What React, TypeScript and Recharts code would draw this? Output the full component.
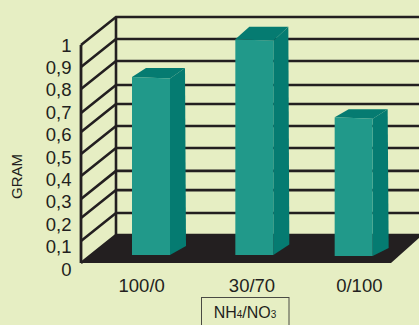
import React from "react";
import { BarChart, Bar, XAxis, YAxis, CartesianGrid } from "recharts";

const categories = ["100/0", "30/70", "0/100"];
const gramValues = [0.816, 0.99, 0.636];
const axisValues = [0, 0.1, 0.2, 0.3, 0.4, 0.5, 0.6, 0.7, 0.8, 0.9, 1];
const axisLabels = ["0", "0,1", "0,2", "0,3", "0,4", "0,5", "0,6", "0,7", "0,8", "0,9", "1"];
const gridLevels = [0, 0.101, 0.206, 0.294, 0.399, 0.5, 0.601, 0.688, 0.798, 0.899, 1];

const data = categories.map((name, i) => ({ name, gram: gramValues[i] }));

const INK = "#231f20";
const BG = "#e6eec3";
const FRONT = "#21998a";
const DARK = "#057b71";
const FONT = "'Liberation Sans', Arial, sans-serif";

const DEPTH_X = 35;
const DEPTH_Y = 28;

const barLook = [
  { nudge: 0, lift: 8, rise: 9, baseRise: 9 },
  { nudge: 2, lift: 8, rise: 12.5, baseRise: 10.5 },
  { nudge: 0, lift: 7, rise: 8, baseRise: 8 },
];
const labelNudge = [-9, 0, 6];

function WallLine(props: any) {
  const { x1, y1, x2, y, height } = props;
  const bottom = y + height;
  const isFloor = Math.abs(y1 - bottom) < 0.5;
  return (
    <g>
      {isFloor && (
        <>
          <polygon
            points={`${x1},${y1} ${x1 + DEPTH_X},${y1 - DEPTH_Y} ${x2},${y1 - DEPTH_Y} ${x2},${y1 - DEPTH_Y + 3} ${x2 - 28},${y1}`}
            fill={INK}
          />
          <line x1={x1 + DEPTH_X} y1={y - DEPTH_Y} x2={x1 + DEPTH_X} y2={y1 - DEPTH_Y} stroke={INK} strokeWidth={2.6} />
        </>
      )}
      <polyline
        points={`${x1},${y1} ${x1 + DEPTH_X},${y1 - DEPTH_Y} ${x2},${y1 - DEPTH_Y}`}
        fill="none"
        stroke={INK}
        strokeWidth={2.6}
      />
    </g>
  );
}

function Bar3D(props: any) {
  const { x, y, width, height, index } = props;
  const look = barLook[index] || barLook[0];
  const l = x + look.nudge;
  const r = l + width;
  const t = y - look.lift;
  const b = t + height;
  return (
    <g>
      <polygon
        points={`${l},${t} ${l + 14},${t - look.rise} ${r + 15},${t - look.rise} ${r},${t + 1.5}`}
        fill={DARK}
      />
      <polygon
        points={`${r},${t + 1.5} ${r + 15},${t - look.rise} ${r + 16},${b - look.baseRise} ${r},${b}`}
        fill={DARK}
      />
      <polygon points={`${l},${t} ${r},${t + 1.5} ${r},${b} ${l},${b}`} fill={FRONT} />
    </g>
  );
}

function YTick(props: any) {
  const { y, payload } = props;
  const v = payload.value;
  const i = Math.round(v * 10);
  return (
    <text x={71.5} y={y + 6 * (1 - v) + 6.5} textAnchor="end" fontSize={18.5} fontFamily={FONT} fill={INK}>
      {axisLabels[i]}
    </text>
  );
}

function XTick(props: any) {
  const { x, y, payload, index } = props;
  return (
    <text x={x + labelNudge[index]} y={y + 21} textAnchor="middle" fontSize={18.5} fontFamily={FONT} fill={INK}>
      {payload.value}
    </text>
  );
}

function XCaption(props: any) {
  const top = props.viewBox.y;
  return (
    <g>
      <rect x={201.5} y={top + 34.5} width={87.5} height={40} fill="none" stroke="#4a4a44" strokeWidth={1} />
      <text x={245} y={top + 55} textAnchor="middle" fontSize={16} fontFamily={FONT} fill={INK}>
        NH
        <tspan fontSize={10}>4</tspan>
        /NO
        <tspan fontSize={10}>3</tspan>
      </text>
    </g>
  );
}

function YCaption() {
  return (
    <text
      x={0}
      y={0}
      transform="translate(22 176.5) rotate(-90)"
      textAnchor="middle"
      fontSize={15}
      fontFamily={FONT}
      fill={INK}
    >
      GRAM
    </text>
  );
}

export default function App() {
  return (
    <div style={{ position: "absolute", left: 0, top: 0, width: 419, height: 325, background: BG, overflow: "hidden" }}>
      <BarChart
        width={419}
        height={325}
        data={data}
        margin={{ top: 45, right: 0, bottom: 0, left: 0 }}
        barSize={38}
        style={{ overflow: "visible" }}
      >
        <CartesianGrid
          horizontalValues={gridLevels}
          vertical={false}
          horizontal={(p: any) => <WallLine key={p.key} {...p} />}
        />
        <XAxis
          dataKey="name"
          height={62}
          padding={{ left: 19, right: 15 }}
          axisLine={false}
          tickLine={false}
          tick={<XTick />}
          interval={0}
          label={<XCaption />}
        />
        <YAxis
          width={81}
          domain={[0, 1]}
          ticks={axisValues}
          interval={0}
          axisLine={{ stroke: INK, strokeWidth: 2.8 }}
          tickLine={false}
          tick={<YTick />}
          label={<YCaption />}
        />
        <Bar dataKey="gram" isAnimationActive={false} shape={<Bar3D />} />
      </BarChart>
    </div>
  );
}
